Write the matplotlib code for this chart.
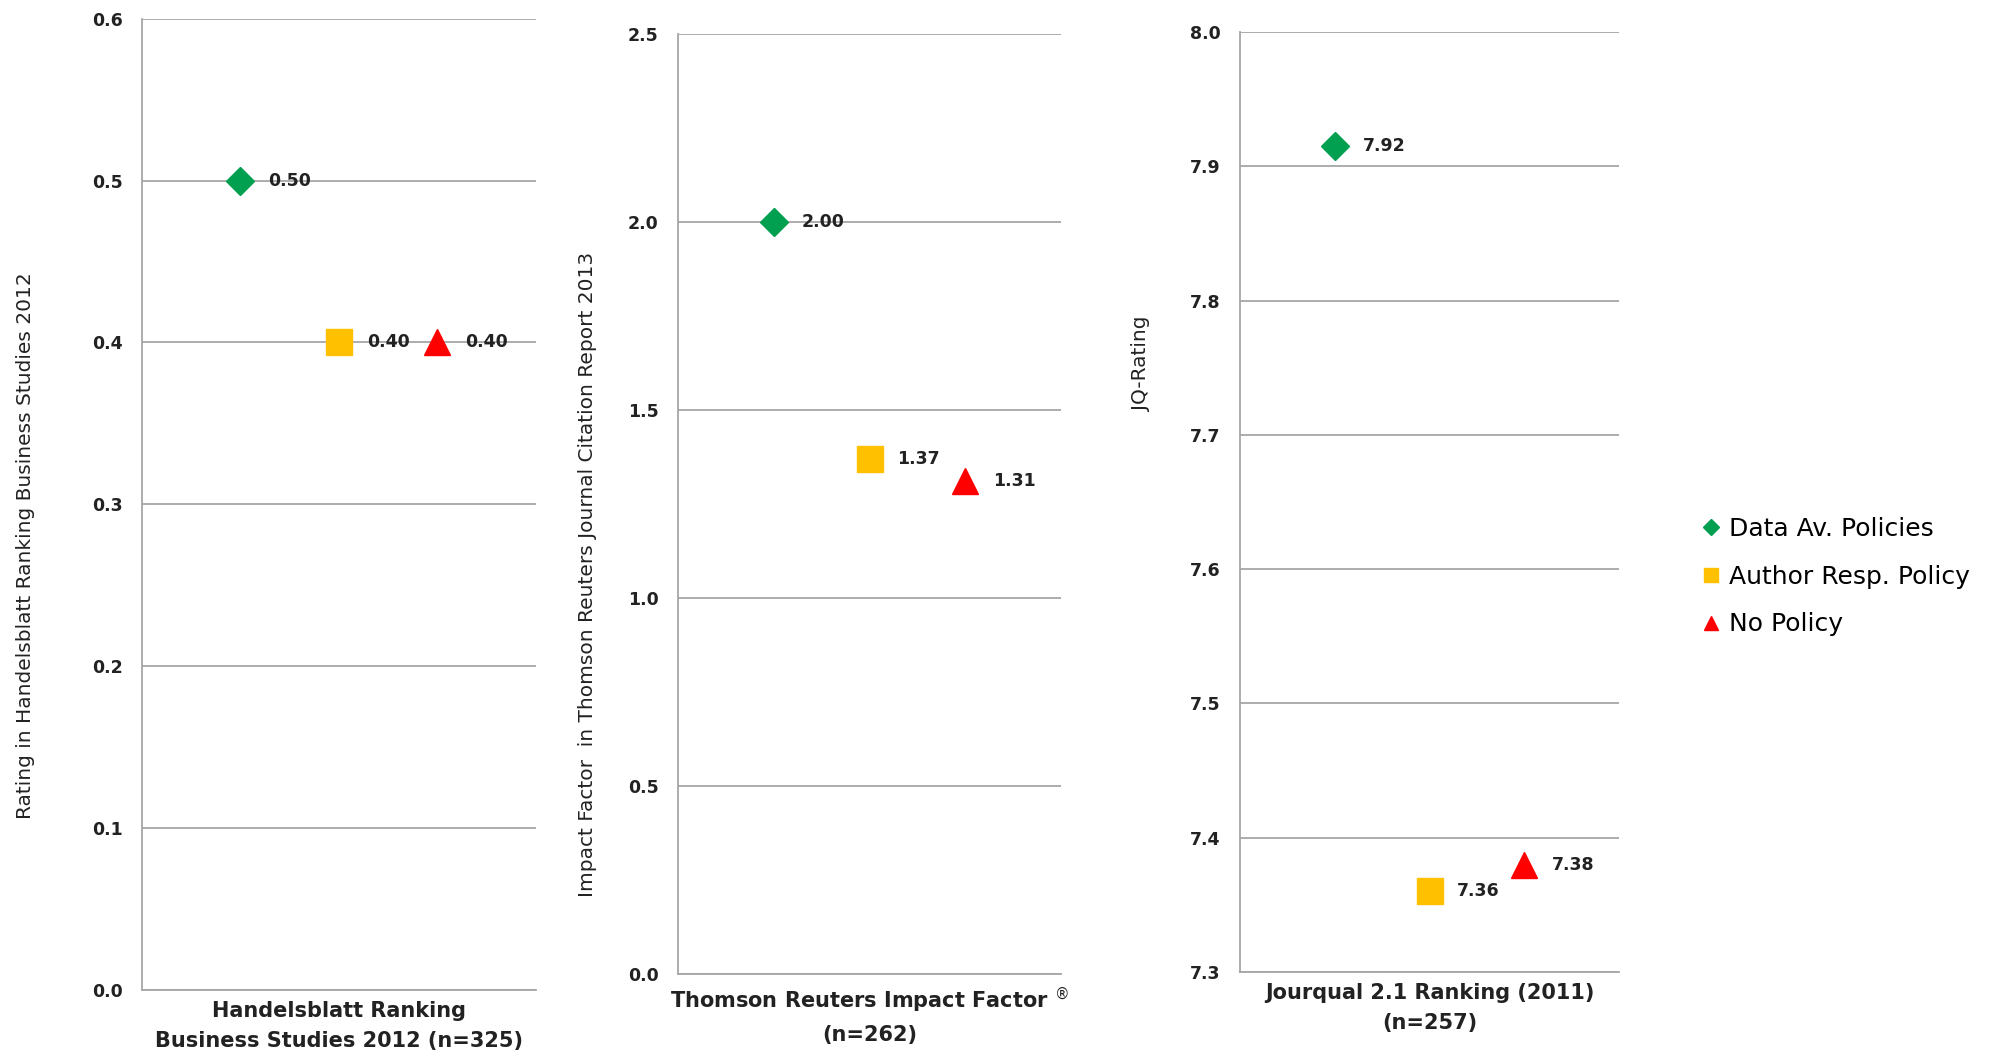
import matplotlib
matplotlib.use('Agg')
import matplotlib.pyplot as plt
from matplotlib.ticker import MultipleLocator, FormatStrFormatter

# Donnees
policies = ['Data Av. Policies', 'Author Resp. Policy', 'No Policy']
colors = ['#00A050', '#FFC000', '#FF0000']
markers = ['D', 's', '^']
msizes = [14, 19, 19]

handelsblatt = [0.50, 0.40, 0.40]
impact_factor = [2.00, 1.37, 1.31]
jourqual = [7.915, 7.36, 7.38]

xlabels = ['Handelsblatt Ranking\nBusiness Studies 2012 (n=325)',
           'Thomson Reuters Impact Factor $^{®}$\n(n=262)',
           'Jourqual 2.1 Ranking (2011)\n(n=257)']
ylabels = ['Rating in Handelsblatt Ranking Business Studies 2012',
           'Impact Factor  in Thomson Reuters Journal Citation Report 2013',
           'JQ-Rating']
ylims = [(0, 0.6), (0, 2.5), (7.3, 8.0)]
ysteps = [0.1, 0.5, 0.1]

fig = plt.figure(figsize=(19.93, 10.58), dpi=100)
positions = [[0.0712, 0.0643, 0.1977, 0.918],
             [0.3402, 0.0794, 0.1922, 0.8885],
             [0.6222, 0.0813, 0.1902, 0.8885]]
ylab_coords = [(-0.272, 0.457), (-0.211, 0.425), (-0.235, 0.647)]
series = [handelsblatt, impact_factor, jourqual]

label_font = ['Liberation Sans Narrow', 'DejaVu Sans']

for i in range(3):
    ax = fig.add_axes(positions[i])
    vals = series[i]
    for j in range(3):
        ax.plot(j + 1, vals[j], marker=markers[j], color=colors[j],
                markersize=msizes[j], linestyle='none', zorder=3,
                label=policies[j])
        ax.annotate('%.2f' % vals[j], (j + 1, vals[j]), xytext=(20, 0),
                    textcoords='offset points', va='center', ha='left',
                    fontsize=12.5, fontweight='bold', color='#222222')
    ax.set_xlim(0, 4)
    ax.set_ylim(ylims[i])
    ax.yaxis.set_major_locator(MultipleLocator(ysteps[i]))
    ax.yaxis.set_major_formatter(FormatStrFormatter('%.1f'))
    ax.grid(axis='y', color='#A6A6A6', linewidth=1.3)
    ax.set_axisbelow(True)
    ax.set_xticks([])
    ax.tick_params(axis='y', length=0, pad=14, labelsize=12.5, labelcolor='#222222')
    for t in ax.get_yticklabels():
        t.set_fontweight('bold')
    for s in ['top', 'right']:
        ax.spines[s].set_visible(False)
    for s in ['left', 'bottom']:
        ax.spines[s].set_color('#A6A6A6')
        ax.spines[s].set_linewidth(1.3)
    ax.set_xlabel(xlabels[i], fontsize=15, fontweight='bold', color='#222222',
                  labelpad=8, linespacing=1.6)
    ax.set_ylabel(ylabels[i], fontsize=14.5, family=label_font, color='#222222')
    ax.yaxis.set_label_coords(*ylab_coords[i])

handles, labs = ax.get_legend_handles_labels()
leg = fig.legend(handles, labs, loc='center left', bbox_to_anchor=(0.843, 0.455),
                 frameon=False, fontsize=18, markerscale=0.55, handlelength=0.7,
                 handletextpad=0.35, labelspacing=0.95)

plt.savefig('out.png', dpi=100)
